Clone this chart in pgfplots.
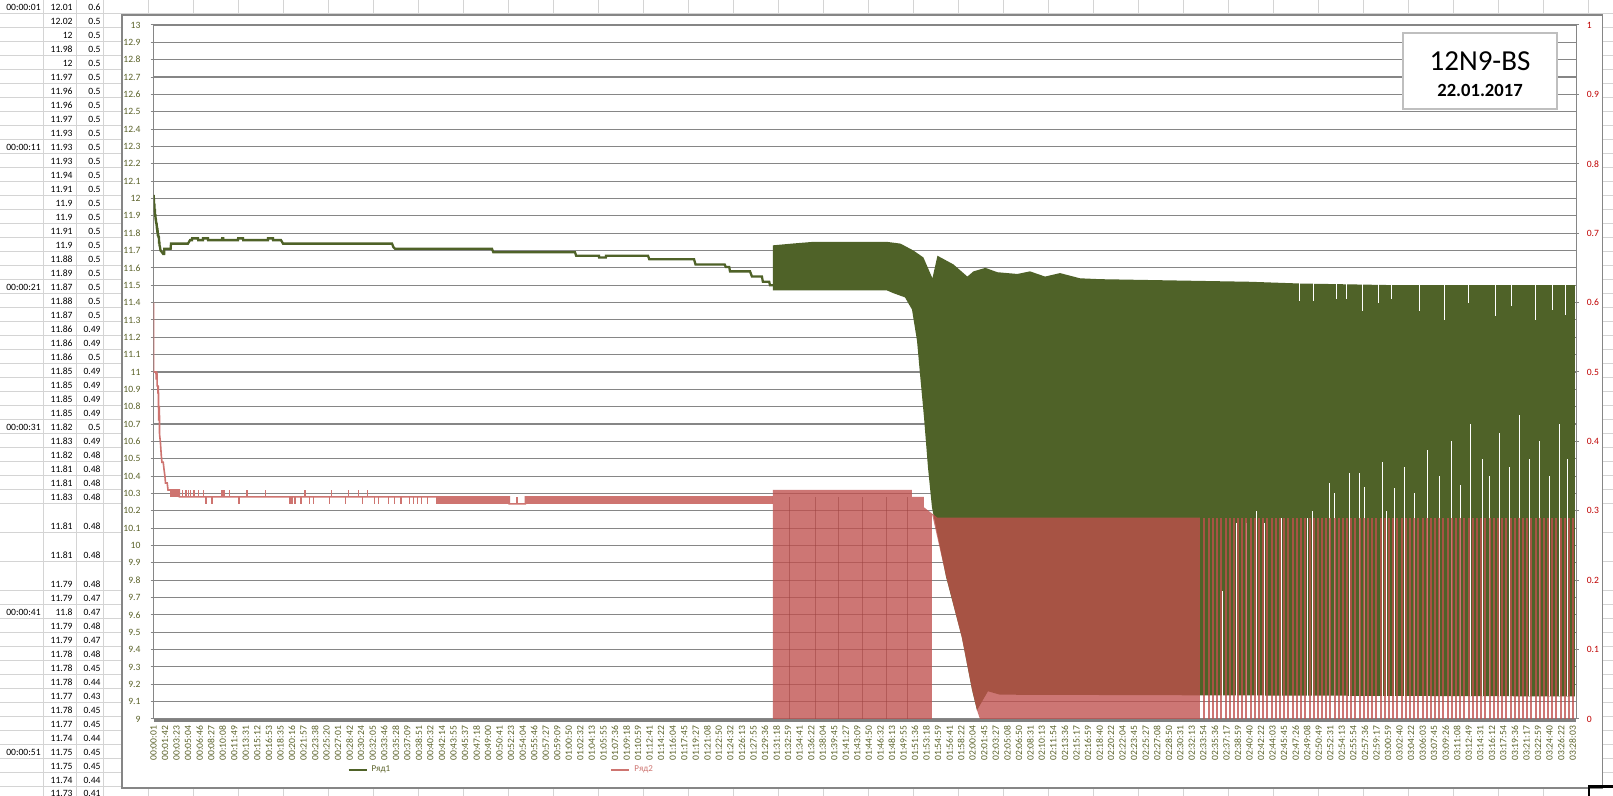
\documentclass[border=0pt]{standalone}
\usepackage{pgfplots}
\pgfplotsset{compat=1.18}
\usepackage{fontspec}
\setmainfont{Carlito}
\definecolor{grn}{HTML}{4F6228}
\definecolor{rd}{HTML}{C0504D}
\definecolor{pk}{HTML}{CE7470}
\definecolor{lbl}{HTML}{5A6128}
\definecolor{rlbl}{HTML}{C00000}
\definecolor{gridc}{HTML}{868686}
\definecolor{cellg}{HTML}{D4D4D4}
\newcommand{\lf}{\fontsize{4.8}{5.6}\selectfont}

\begin{document}
\begin{tikzpicture}
\useasboundingbox (0,0) rectangle (806.5pt,398pt);
% ---------------- spreadsheet behind the chart (pixel coordinates) ----------------
\begin{scope}[x=0.5pt,y=-0.5pt,yshift=398pt]
\foreach \k in {0,...,34} \draw[cellg,line width=0.5pt] ({103.3+45*\k},0) -- ({103.3+45*\k},796);
\draw[cellg,line width=0.5pt] (43,0)--(43,796) (76,0)--(76,796);
\foreach \yy in {14,28,...,504} \draw[cellg,line width=0.5pt] (0,\yy)--(1613,\yy);
\foreach \yy in {533,562,591} \draw[cellg,line width=0.5pt] (0,\yy)--(1613,\yy);
\foreach \yy in {605,619,...,787} \draw[cellg,line width=0.5pt] (0,\yy)--(1613,\yy);
\foreach \yy/\tm in {7/00:00:01,147/00:00:11,287/00:00:21,427/00:00:31,612/00:00:41,752/00:00:51}
  \node[anchor=east,inner sep=0pt,font=\lf] at (41,\yy) {\tm};
\foreach \yy/\a/\b in {7/12.01/0.6,21/12.02/0.5,35/12/0.5,49/11.98/0.5,63/12/0.5,77/11.97/0.5,
  91/11.96/0.5,105/11.96/0.5,119/11.97/0.5,133/11.93/0.5,147/11.93/0.5,161/11.93/0.5,
  175/11.94/0.5,189/11.91/0.5,203/11.9/0.5,217/11.9/0.5,231/11.91/0.5,245/11.9/0.5,
  259/11.88/0.5,273/11.89/0.5,287/11.87/0.5,301/11.88/0.5,315/11.87/0.5,329/11.86/0.49,
  343/11.86/0.49,357/11.86/0.5,371/11.85/0.49,385/11.85/0.49,399/11.85/0.49,413/11.85/0.49,
  427/11.82/0.5,441/11.83/0.49,455/11.82/0.48,469/11.81/0.48,483/11.81/0.48,497/11.83/0.48,
  526/11.81/0.48,555/11.81/0.48,584/11.79/0.48,598/11.79/0.47,612/11.8/0.47,626/11.79/0.48,
  640/11.79/0.47,654/11.78/0.48,668/11.78/0.45,682/11.78/0.44,696/11.77/0.43,710/11.78/0.45,
  724/11.77/0.45,738/11.74/0.44,752/11.75/0.45,766/11.75/0.45,780/11.74/0.44,793/11.73/0.41}
  {\node[anchor=east,inner sep=0pt,font=\lf] at (73,\yy) {\a};
   \node[anchor=east,inner sep=0pt,font=\lf] at (101,\yy) {\b};}
\draw[gridc,fill=white,line width=0.6pt] (122,15) rectangle (1602.5,788);
\end{scope}

% ---------------- left axis: Ряд1 ----------------
\begin{axis}[
 at={(76.75pt,38.5pt)}, anchor=south west,
 scale only axis, width=711.25pt, height=347pt,
 xmin=0, xmax=12453, ymin=9, ymax=13,
 scaled x ticks=false, scaled y ticks=false,
 axis x line*=bottom, axis y line*=left,
 x axis line style={-, draw=gray, line width=1.75pt, yshift=-0.85pt},
 y axis line style={-, draw=gridc, line width=0.5pt},
 tick align=outside, major tick length=1.5pt,
 xtick style={draw=none}, ytick style={draw=gridc, line width=0.5pt},
 ytick={9,9.1,9.2,9.3,9.4,9.5,9.6,9.7,9.8,9.9,10,10.1,10.2,10.3,10.4,10.5,10.6,10.7,10.8,10.9,11,11.1,11.2,11.3,11.4,11.5,11.6,11.7,11.8,11.9,12,12.1,12.2,12.3,12.4,12.5,12.6,12.7,12.8,12.9,13},
 ymajorgrids, major grid style={draw=gridc, line width=0.55pt},
 xtick={0,101,...,12423},
 xticklabels={00:00:01,00:01:42,00:03:23,00:05:04,00:06:46,00:08:27,00:10:08,00:11:49,00:13:31,00:15:12,00:16:53,00:18:35,00:20:16,00:21:57,00:23:38,00:25:20,00:27:01,00:28:42,00:30:24,00:32:05,00:33:46,00:35:28,00:37:09,00:38:51,00:40:32,00:42:14,00:43:55,00:45:37,00:47:18,00:49:00,00:50:41,00:52:23,00:54:04,00:55:46,00:57:27,00:59:09,01:00:50,01:02:32,01:04:13,01:05:55,01:07:36,01:09:18,01:10:59,01:12:41,01:14:22,01:16:04,01:17:45,01:19:27,01:21:08,01:22:50,01:24:32,01:26:13,01:27:55,01:29:36,01:31:18,01:32:59,01:34:41,01:36:22,01:38:04,01:39:45,01:41:27,01:43:09,01:44:50,01:46:32,01:48:13,01:49:55,01:51:36,01:53:18,01:54:59,01:56:41,01:58:22,02:00:04,02:01:45,02:03:27,02:05:08,02:06:50,02:08:31,02:10:13,02:11:54,02:13:36,02:15:17,02:16:59,02:18:40,02:20:22,02:22:04,02:23:45,02:25:27,02:27:08,02:28:50,02:30:31,02:32:13,02:33:54,02:35:36,02:37:17,02:38:59,02:40:40,02:42:22,02:44:03,02:45:45,02:47:26,02:49:08,02:50:49,02:52:31,02:54:13,02:55:54,02:57:36,02:59:17,03:00:59,03:02:40,03:04:22,03:06:03,03:07:45,03:09:26,03:11:08,03:12:49,03:14:31,03:16:12,03:17:54,03:19:36,03:21:17,03:22:59,03:24:40,03:26:22,03:28:03},
 xticklabel style={rotate=90, anchor=east, font=\lf, text=lbl, inner sep=1.8pt},
 yticklabel style={font=\lf, text=lbl, xshift=-1.5pt},
 /pgf/number format/assume math mode=true,
 unbounded coords=jump,
 legend columns=2,
 legend style={at={(0.136,-0.0735)}, anchor=west, draw=none, fill=none,
   font=\fontsize{4.5}{5}\selectfont, text=lbl, inner sep=0pt,
   /tikz/every even column/.append style={column sep=108pt}},
 legend image code/.code={\draw[#1] (0pt,0pt) -- (9pt,0pt);},
]
\addplot[grn, line width=1.15pt] coordinates {
(0,12.01)(1,12.02)(2,12)(3,11.98)(4,12)(5,11.97)(6,11.96)(7,11.96)(8,11.97)(9,11.93)
(10,11.93)(11,11.93)(12,11.94)(13,11.91)(14,11.9)(15,11.9)(16,11.91)(17,11.9)(18,11.88)(19,11.89)
(20,11.87)(21,11.88)(22,11.87)(23,11.86)(24,11.86)(25,11.86)(26,11.85)(27,11.85)(28,11.85)(29,11.85)
(30,11.82)(31,11.83)(32,11.82)(33,11.81)(34,11.81)(35,11.83)(36,11.81)(37,11.81)(38,11.79)(39,11.79)
(40,11.8)(41,11.79)(42,11.79)(43,11.78)(44,11.78)(45,11.78)(46,11.77)(47,11.78)(48,11.77)(49,11.74)
(50,11.75)(51,11.75)(52,11.74)(53,11.73)
(57,11.72)(62,11.70)(75,11.69)(85,11.68)(93,11.68)(95,11.71)(150,11.71)(153,11.74)(302,11.74)(320,11.76)
(337,11.76)(338,11.77)(390,11.77)(391,11.76)(433,11.76)(434,11.77)(477,11.77)(478,11.76)(600,11.76)(601,11.77)
(610,11.77)(611,11.76)(740,11.76)(741,11.77)(784,11.77)(785,11.76)(1002,11.76)(1003,11.77)(1046,11.77)(1047,11.76)
(1116,11.76)(1134,11.74)(2088,11.74)(2100,11.72)(2114,11.71)(2963,11.71)(2975,11.69)(3690,11.69)(3700,11.67)
(3900,11.67)(3901,11.66)(3960,11.66)(3961,11.67)(4329,11.67)(4340,11.65)(4732,11.65)(4745,11.62)(5000,11.62)
(5010,11.605)(5040,11.605)(5047,11.58)(5222,11.58)(5239,11.55)(5326,11.55)(5335,11.52)(5390,11.52)(5397,11.50)(5423,11.50)};
\addlegendentry{Ряд1}
\addlegendimage{pk, line width=1.2pt}
\addlegendentry{\textcolor{pk}{Ряд2}}
% dense oscillation of Ряд1: upper and lower envelope
\addplot[fill=grn, draw=none, forget plot] coordinates {
(5423,11.47)(5423,11.73)(5589,11.74)(5773,11.75)(6421,11.75)(6539,11.74)(6653,11.70)(6740,11.66)(6819,11.54)
(6863,11.67)(7003,11.62)(7125,11.55)(7178,11.58)(7283,11.60)(7388,11.575)(7475,11.57)(7563,11.565)(7673,11.58)
(7805,11.55)(7936,11.57)(8111,11.54)(8286,11.535)(8723,11.53)(9161,11.525)(9599,11.52)(10036,11.51)(10474,11.505)
(10912,11.50)(12444,11.50)(12444,9.13)(7410,9.14)(7305,9.16)(7209,9.05)(7165,9.17)(7077,9.47)(6938,9.82)
(6815,10.22)(6780,10.45)(6745,10.74)(6710,10.99)(6684,11.18)(6640,11.36)(6579,11.43)(6474,11.455)(6421,11.47)};
% gaps in the oscillation
\addplot[white, line width=0.5pt, forget plot] coordinates {
(9362,9.13)(9362,9.74)(9362,nan)(9485,9.13)(9485,10.13)(9485,nan)(9572,9.13)(9572,10.13)(9572,nan)
(9660,9.13)(9660,10.20)(9660,nan)(9730,9.13)(9730,10.13)(9730,nan)(9879,9.13)(9879,10.16)(9879,nan)
(10098,9.13)(10098,10.16)(10098,nan)(10142,9.13)(10142,10.20)(10142,nan)(10291,9.13)(10291,10.36)(10291,nan)
(10335,9.13)(10335,10.30)(10335,nan)(10466,9.13)(10466,10.42)(10466,nan)(10554,9.13)(10554,10.42)(10554,nan)
(10598,9.13)(10598,10.34)(10598,nan)(10763,9.13)(10763,10.48)(10763,nan)(10798,9.13)(10798,10.20)(10798,nan)
(10868,9.13)(10868,10.33)(10868,nan)(10955,9.13)(10955,10.45)(10955,nan)(11043,9.13)(11043,10.30)(11043,nan)
(11157,9.13)(11157,10.55)(11157,nan)(11262,9.13)(11262,10.40)(11262,nan)(11367,9.13)(11367,10.60)(11367,nan)
(11446,9.13)(11446,10.35)(11446,nan)(11525,9.13)(11525,10.70)(11525,nan)(11630,9.13)(11630,10.50)(11630,nan)
(11700,9.13)(11700,10.40)(11700,nan)(11787,9.13)(11787,10.65)(11787,nan)(11875,9.13)(11875,10.45)(11875,nan)
(11962,9.13)(11962,10.75)(11962,nan)(12050,9.13)(12050,10.50)(12050,nan)(12137,9.13)(12137,10.60)(12137,nan)
(12225,9.13)(12225,10.40)(12225,nan)(12312,9.13)(12312,10.70)(12312,nan)(12382,9.13)(12382,10.50)(12382,nan)
(10036,11.53)(10036,11.41)(10036,nan)(10159,11.53)(10159,11.41)(10159,nan)(10360,11.53)(10360,11.42)(10360,nan)
(10448,11.53)(10448,11.42)(10448,nan)(10580,11.53)(10580,11.35)(10580,nan)(10728,11.53)(10728,11.40)(10728,nan)
(10842,11.53)(10842,11.42)(10842,nan)(11087,11.53)(11087,11.35)(11087,nan)(11306,11.53)(11306,11.30)(11306,nan)
(11508,11.53)(11508,11.40)(11508,nan)(11744,11.53)(11744,11.32)(11744,nan)(11892,11.53)(11892,11.38)(11892,nan)
(12094,11.53)(12094,11.30)(12094,nan)(12243,11.53)(12243,11.36)(12243,nan)(12365,11.53)(12365,11.33)};
\end{axis}

% ---------------- right axis: Ряд2 ----------------
\begin{axis}[
 at={(76.75pt,38.5pt)}, anchor=south west,
 scale only axis, width=711.25pt, height=347pt,
 xmin=0, xmax=12453, ymin=0, ymax=1,
 scaled x ticks=false, scaled y ticks=false,
 axis y line*=right, axis x line=none,
 y axis line style={-, draw=gridc, line width=0.5pt},
 tick align=outside, major tick length=1.5pt,
 ytick style={draw=gridc, line width=0.5pt},
 ytick={0,0.1,0.2,0.3,0.4,0.5,0.6,0.7,0.8,0.9,1}, xtick=\empty,
 yticklabel style={font=\lf, text=rlbl, xshift=0.4pt},
 /pgf/number format/assume math mode=true,
 unbounded coords=jump,
]
\addplot[pk, line width=0.8pt] coordinates {
(0,0.6)(1,0.5)(22,0.5)(23,0.49)(24,0.49)(25,0.5)(26,0.49)(29,0.49)(30,0.5)(31,0.49)(32,0.48)(38,0.48)
(39,0.47)(40,0.47)(41,0.48)(42,0.47)(43,0.48)(44,0.45)(45,0.44)(46,0.43)(47,0.45)(48,0.45)(49,0.44)
(50,0.45)(51,0.45)(52,0.44)(53,0.41)(60,0.40)(68,0.38)(74,0.37)(85,0.37)(92,0.36)(100,0.35)(105,0.34)
(120,0.34)(127,0.33)(141,0.33)(227,0.33)(227,0.32)(3114,0.32)(3114,0.31)(3256,0.31)(3256,0.32)(5423,0.32)};
\addplot[fill=pk, draw=none] coordinates {(141,0.32)(141,0.33)(227,0.33)(227,0.32)};
\addplot[fill=pk, draw=none] coordinates {(594,0.32)(594,0.33)(630,0.33)(630,0.32)};
\addplot[fill=pk, draw=none] coordinates {(2470,0.31)(2470,0.32)(3114,0.32)(3114,0.31)};
\addplot[fill=pk, draw=none] coordinates {(3256,0.31)(3256,0.32)(5423,0.32)(5423,0.31)};
\addplot[pk, line width=0.6pt] coordinates {
(256,0.32)(256,0.33)(256,nan)(284,0.32)(284,0.33)(284,nan)(309,0.32)(309,0.33)(309,nan)
(327,0.32)(327,0.33)(327,nan)(355,0.32)(355,0.33)(355,nan)(391,0.32)(391,0.33)(391,nan)
(435,0.32)(435,0.33)(435,nan)(666,0.32)(666,0.33)(666,nan)(819,0.32)(819,0.33)(819,nan)
(980,0.32)(980,0.33)(980,nan)(1327,0.32)(1327,0.33)(1327,nan)(1559,0.32)(1559,0.33)(1559,nan)
(1710,0.32)(1710,0.33)(1710,nan)(1792,0.32)(1792,0.33)(1792,nan)(1874,0.32)(1874,0.33)(1874,nan)
(459,0.32)(459,0.31)(459,nan)(512,0.32)(512,0.31)(512,nan)(748,0.32)(748,0.31)(748,nan)
(1195,0.32)(1195,0.31)(1195,nan)(1212,0.32)(1212,0.31)(1212,nan)(1238,0.32)(1238,0.31)(1238,nan)
(1291,0.32)(1291,0.31)(1291,nan)(1363,0.32)(1363,0.31)(1363,nan)(1399,0.32)(1399,0.31)(1399,nan)
(1542,0.32)(1542,0.31)(1542,nan)(1684,0.32)(1684,0.31)(1684,nan)(1827,0.32)(1827,0.31)(1827,nan)
(1935,0.32)(1935,0.31)(1935,nan)(1971,0.32)(1971,0.31)(1971,nan)(2060,0.32)(2060,0.31)(2060,nan)
(2113,0.32)(2113,0.31)(2113,nan)(2167,0.32)(2167,0.31)(2167,nan)(2238,0.32)(2238,0.31)(2238,nan)
(2274,0.32)(2274,0.31)(2274,nan)(2309,0.32)(2309,0.31)(2309,nan)(2345,0.32)(2345,0.31)(2345,nan)
(2399,0.32)(2399,0.31)(2399,nan)(3182,0.31)(3182,0.32)};
% dense oscillation of Ряд2
\addplot[fill=rd, fill opacity=0.78, draw=none] coordinates {
(5423,0)(5423,0.33)(6640,0.33)(6640,0.32)(6745,0.32)(6745,0.305)(6863,0.29)(9161,0.29)(9161,0)
(7235,0)(7209,0.013)(7165,0.043)(7077,0.117)(6938,0.206)(6815,0.296)(6815,0)};
\addplot[ycomb, draw=rd!80!black, draw opacity=0.5, line width=0.5pt] coordinates {
(5572,0.32)(5791,0.32)(5993,0.32)(6203,0.32)(6413,0.32)(6605,0.32)};
\addplot[ycomb, draw=rd, draw opacity=0.78, line width=1pt] coordinates {
(9200,0.29)(9236,0.29)(9275,0.29)(9310,0.29)(9348,0.29)(9385,0.29)(9420,0.29)(9458,0.29)(9497,0.29)(9530,0.29)
(9568,0.29)(9605,0.29)(9641,0.29)(9680,0.29)(9716,0.29)(9752,0.29)(9790,0.29)(9825,0.29)(9862,0.29)(9900,0.29)
(9936,0.29)(9972,0.29)(10010,0.29)(10046,0.29)(10082,0.29)(10120,0.29)(10156,0.29)(10192,0.29)(10230,0.29)(10266,0.29)
(10302,0.29)(10340,0.29)(10376,0.29)(10412,0.29)(10450,0.29)(10486,0.29)(10522,0.29)(10560,0.29)(10596,0.29)(10632,0.29)
(10670,0.29)(10706,0.29)(10742,0.29)(10780,0.29)(10816,0.29)(10852,0.29)(10890,0.29)(10926,0.29)(10962,0.29)(11000,0.29)
(11036,0.29)(11072,0.29)(11110,0.29)(11146,0.29)(11182,0.29)(11220,0.29)(11256,0.29)(11292,0.29)(11330,0.29)(11366,0.29)
(11402,0.29)(11440,0.29)(11476,0.29)(11512,0.29)(11550,0.29)(11586,0.29)(11622,0.29)(11660,0.29)(11696,0.29)(11732,0.29)
(11770,0.29)(11806,0.29)(11842,0.29)(11880,0.29)(11916,0.29)(11952,0.29)(11990,0.29)(12026,0.29)(12062,0.29)(12100,0.29)
(12136,0.29)(12172,0.29)(12210,0.29)(12246,0.29)(12282,0.29)(12320,0.29)(12356,0.29)(12392,0.29)(12430,0.29)};
\end{axis}

% ---------------- title box and sheet selection mark ----------------
\begin{scope}[x=0.5pt,y=-0.5pt,yshift=398pt]
\draw[black!25, fill=white, line width=0.6pt] (1403,33) rectangle (1557,109);
\node[font=\fontsize{14.5}{15}\selectfont] at (1480,61) {12N9-BS};
\node[font=\fontsize{9.3}{10}\selectfont\bfseries] at (1480,90) {22.01.2017};
\draw[black, line width=1.5pt] (1588,786.5) -- (1613,786.5);
\draw[black, line width=1.2pt] (1589,786) -- (1589,796);
\end{scope}
\end{tikzpicture}
\end{document}
